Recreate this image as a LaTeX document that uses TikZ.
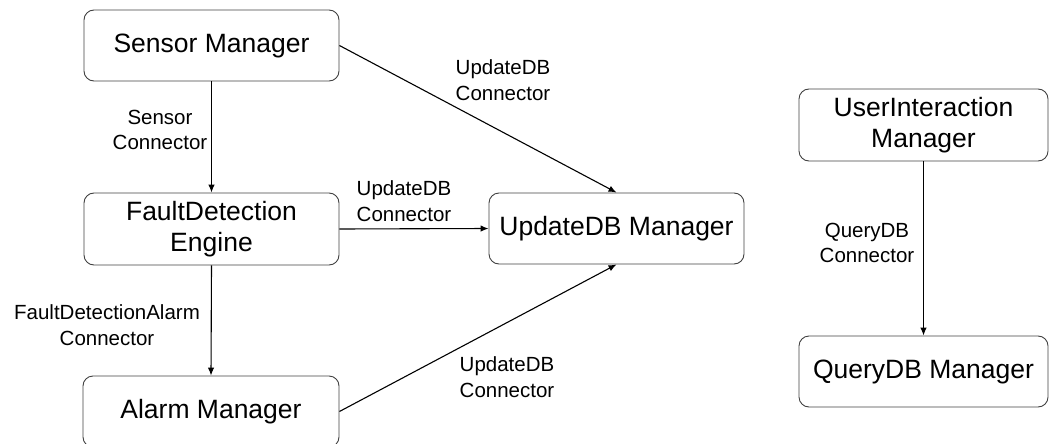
\documentclass[tikz,border=0pt]{standalone}
\usepackage{fontspec}
\setmainfont{Liberation Sans}
\usetikzlibrary{arrows.meta}
\begin{document}
\begin{tikzpicture}[x=1pt,y=-1pt,
  box/.style={draw=black!75, line width=0.9pt, rounded corners=10pt, align=center,
    font=\fontsize{26.5}{31}\selectfont, inner sep=0pt},
  lbl/.style={align=center, font=\fontsize{20.5}{25.5}\selectfont, inner sep=0pt},
  conn/.style={line width=1.1pt, -{Latex[length=8pt,width=6.5pt]}}]
\useasboundingbox (0,0) rectangle (1049,444);
\node[box, minimum width=255pt, minimum height=71pt] (S) at (211.5,45.5) {Sensor Manager};
\node[box, minimum width=255pt, minimum height=72pt] (F) at (211.5,229) {FaultDetection\\Engine};
\node[box, minimum width=255pt, minimum height=71pt] (U) at (616.5,228.5) {UpdateDB Manager};
\node[box, minimum width=256pt, minimum height=71pt] (A) at (211,411.5) {Alarm Manager};
\node[box, minimum width=249pt, minimum height=72pt] (UI) at (923.5,125) {UserInteraction\\Manager};
\node[box, minimum width=249pt, minimum height=71pt] (Q) at (923.5,371.5) {QueryDB Manager};
\draw[conn] (S.south) -- (F.north);
\draw[conn] (F.south) -- (A.north);
\draw[conn] (S.east) -- (U.north);
\draw[conn] (F.east) -- (U.west);
\draw[conn] (A.east) -- (U.south);
\draw[conn] (UI.south) -- (Q.north);
\node[lbl] (l1) at (160,130) {Sensor\\Connector};
\node[lbl] (l2) at (503,80) {UpdateDB\\Connector};
\node[lbl] (l3) at (404,201) {UpdateDB\\Connector};
\node[lbl] (l4) at (107,325) {FaultDetectionAlarm\\Connector};
\node[lbl] (l5) at (507,377) {UpdateDB\\Connector};
\node[lbl] (l6) at (867,243) {QueryDB\\Connector};
\end{tikzpicture}
\end{document}
